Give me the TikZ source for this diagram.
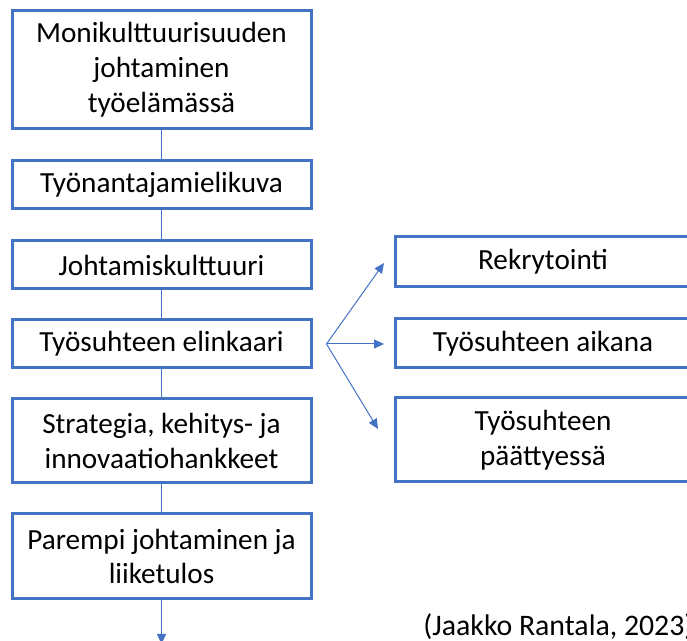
\documentclass[tikz,border=0pt]{standalone}
\usepackage{fontspec}
\setmainfont{Carlito}
\usetikzlibrary{arrows.meta}
\definecolor{boxblue}{RGB}{68,114,196}
\begin{document}
\begin{tikzpicture}[x=0.5pt, y=-0.5pt,
    font=\fontsize{14.6pt}{17.4pt}\selectfont,
    stepbox/.style={draw=boxblue, line width=1.5pt, fill=white, align=center,
      minimum width=149.5pt, inner sep=0pt},
    link/.style={draw=boxblue, line width=0.5pt},
    arr/.style={link, -{Triangle[length=5pt, width=4.5pt]}}]
      \def\lx{161.5}
      \def\rx{543}
      %
      \clip (0,0) rectangle (687,641);
      \fill[white] (0,0) rectangle (687,641);
      %
      % left column
      \node[stepbox, minimum height=59pt] (moni) at (\lx,70)
        {Monikulttuurisuuden\\johtaminen\\työelämässä};
      \node[stepbox, minimum height=24pt] (kuva) at (\lx,185) {Työnantajamielikuva};
      \node[stepbox, minimum height=24pt] (kult) at (\lx,265) {Johtamiskulttuuri};
      \node[stepbox, minimum height=24pt] (elin) at (\lx,344) {Työsuhteen elinkaari};
      \node[stepbox, minimum height=42pt] (stra) at (\lx,441)
        {Strategia, kehitys- ja\\innovaatiohankkeet};
      \node[stepbox, minimum height=42.5pt] (pare) at (\lx,556.5)
        {Parempi johtaminen ja\\liiketulos};
      %
      % right column
      \node[stepbox, minimum width=148pt, minimum height=25pt] (rekr) at (\rx,262) {Rekrytointi};
      \node[stepbox, minimum width=148pt, minimum height=24.5pt] (aika) at (\rx,343.5) {Työsuhteen aikana};
      \node[stepbox, minimum width=148pt, minimum height=42pt] (paat) at (\rx,440)
        {Työsuhteen\\päättyessä};
      %
      % vertical chain
      \draw[link] (moni) -- (kuva);
      \draw[link] (kuva) -- (kult);
      \draw[link] (kult) -- (elin);
      \draw[link] (elin) -- (stra);
      \draw[link] (stra) -- (pare);
      \coordinate (loppu) at (\lx,644);
      \draw[arr] (pare) -- (loppu);
      %
      % fan to the right
      \coordinate (fan) at ([xshift=7pt]elin.east);
      \coordinate (t1) at (384,263);
      \coordinate (t2) at (384,344);
      \coordinate (t3) at (378,429);
      \draw[arr] (fan) -- (t1);
      \draw[arr] (fan) -- (t2);
      \draw[arr] (fan) -- (t3);
      %
      \node[anchor=west, inner sep=0pt, font=\fontsize{14.9pt}{17.4pt}\selectfont]
        (lahde) at (423,627) {(Jaakko Rantala, 2023)};
    \end{tikzpicture}
\end{document}
